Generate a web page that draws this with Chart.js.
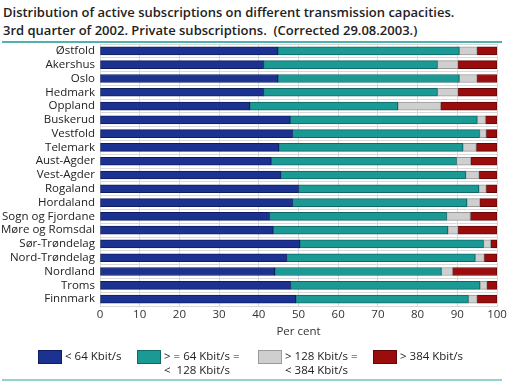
<!DOCTYPE html>
<html>
<head>
<meta charset="utf-8">
<script src="https://cdn.jsdelivr.net/npm/chart.js@4"></script>
<style>
  body { margin: 0; background: #fff; font-family: "Open Sans", sans-serif; }
  #wrap { position: relative; width: 507px; height: 382px; overflow: hidden; }
  #title { position: absolute; left: 3px; top: 3px; font-size: 13px; font-weight: 600; line-height: 18px; color: #222; white-space: nowrap; }
  .rule { position: absolute; left: 2px; width: 500px; height: 2px; }
  #chart { position: absolute; left: 0; top: 0; }
  .leg { position: absolute; font-size: 11.5px; line-height: 14px; color: #222; white-space: nowrap; }
  .box { position: absolute; width: 22px; height: 12px; top: 350px; }
</style>
</head>
<body>
<div id="wrap">
  <div id="title">Distribution of active subscriptions on different transmission capacities.<br>3rd quarter of 2002. Private subscriptions.&nbsp; (Corrected 29.08.2003.)</div>
  <div class="rule" style="top:41px;background:#4fb2b0"></div>
  <canvas id="chart" width="507" height="382"></canvas>
  <div id="legend"></div>
  <div class="rule" style="top:379px;background:#92d1ce"></div>
</div>
<script>
// regions, top to bottom
const regions = ['Østfold', 'Akershus', 'Oslo', 'Hedmark', 'Oppland', 'Buskerud', 'Vestfold',
    'Telemark', 'Aust-Agder', 'Vest-Agder', 'Rogaland', 'Hordaland', 'Sogn og Fjordane',
    'Møre og Romsdal', 'Sør-Trøndelag', 'Nord-Trøndelag', 'Nordland', 'Troms', 'Finnmark'];

// per cent of subscriptions in each capacity group
const below64   = [44.8, 41.2, 44.8, 41.2, 37.7, 47.9, 48.5, 45.0, 43.1, 45.5, 50.0, 48.5, 42.7, 43.6, 50.3, 47.0, 44.0, 48.0, 49.3];
const from64    = [45.7, 43.8, 45.7, 43.8, 37.3, 47.1, 47.1, 46.4, 46.7, 46.6, 45.4, 43.9, 44.6, 44.0, 46.3, 47.5, 42.0, 47.7, 43.5];
const from128   = [4.5, 5.2, 4.5, 5.2, 10.8, 2.1, 1.7, 3.4, 3.6, 3.4, 1.9, 3.3, 6.0, 2.6, 1.8, 2.3, 2.8, 1.8, 2.2];
const above384  = [5.0, 9.8, 5.0, 9.8, 14.2, 2.9, 2.7, 5.2, 6.6, 4.5, 2.7, 4.3, 6.7, 9.8, 1.6, 3.2, 11.2, 2.5, 5.0];

const seriesLabels = [['< 64 Kbit/s'], ['> = 64 Kbit/s =', '<  128 Kbit/s'], ['> 128 Kbit/s =', '< 384 Kbit/s'], ['> 384 Kbit/s']];
const xTicks = [0, 10, 20, 30, 40, 50, 60, 70, 80, 90, 100];

const fills   = ['#1c3291', '#1b9995', '#cfcfcf', '#9b0c0c'];
const borders = ['#0e1d62', '#0f6966', '#9a9a9a', '#650606'];
const values  = [below64, from64, from128, above384];

const datasets = values.map((v, i) => ({
    label: seriesLabels[i].join(' '),
    data: v,
    backgroundColor: fills[i],
    borderColor: borders[i],
    borderWidth: 1,
    borderSkipped: false,
    barThickness: 8
}));

const font = { family: '"Open Sans", sans-serif', size: 11.5 };

new Chart(document.getElementById('chart'), {
    type: 'bar',
    data: { labels: regions, datasets: datasets },
    options: {
        indexAxis: 'y',
        responsive: false,
        animation: false,
        layout: { padding: { top: 44, right: 10, left: 0, bottom: 40 } },
        plugins: { legend: { display: false }, tooltip: { enabled: false } },
        scales: {
            x: {
                stacked: true,
                min: 0,
                max: 100,
                afterBuildTicks: function(axis) {
                    axis.ticks = xTicks.map(v => ({ value: v }));
                },
                afterFit: function(axis) {
                    axis.height = 36;
                    // let the "100" label hang past the plot edge like the original
                    axis.paddingLeft = 0;
                    axis.paddingRight = 0;
                },
                grid: { color: '#d9d9d9', drawTicks: false },
                border: { color: '#d9d9d9' },
                ticks: { color: '#333', font: font, padding: 2, maxRotation: 0 },
                title: { display: true, text: 'Per cent', color: '#333', font: font, padding: { top: 0, bottom: 3 } }
            },
            y: {
                stacked: true,
                afterFit: function(axis) { axis.width = 100; },
                grid: { color: '#d9d9d9', drawTicks: false, offset: true },
                border: { color: '#d9d9d9' },
                ticks: { color: '#222', font: font, padding: 5, autoSkip: false }
            }
        }
    }
});

// legend under the axis
const legend = document.getElementById('legend');
const legX = [38, 137, 258, 373];
seriesLabels.forEach((lines, i) => {
    const box = document.createElement('div');
    box.className = 'box';
    box.style.left = legX[i] + 'px';
    box.style.background = fills[i];
    box.style.border = '1px solid ' + borders[i];
    legend.appendChild(box);
    const txt = document.createElement('div');
    txt.className = 'leg';
    txt.style.left = (legX[i] + 27) + 'px';
    txt.style.top = '349px';
    txt.innerHTML = lines.map(s => s.replace(/</g, '&lt;').replace(/  /g, ' &nbsp;')).join('<br>');
    legend.appendChild(txt);
});
</script>
</body>
</html>
